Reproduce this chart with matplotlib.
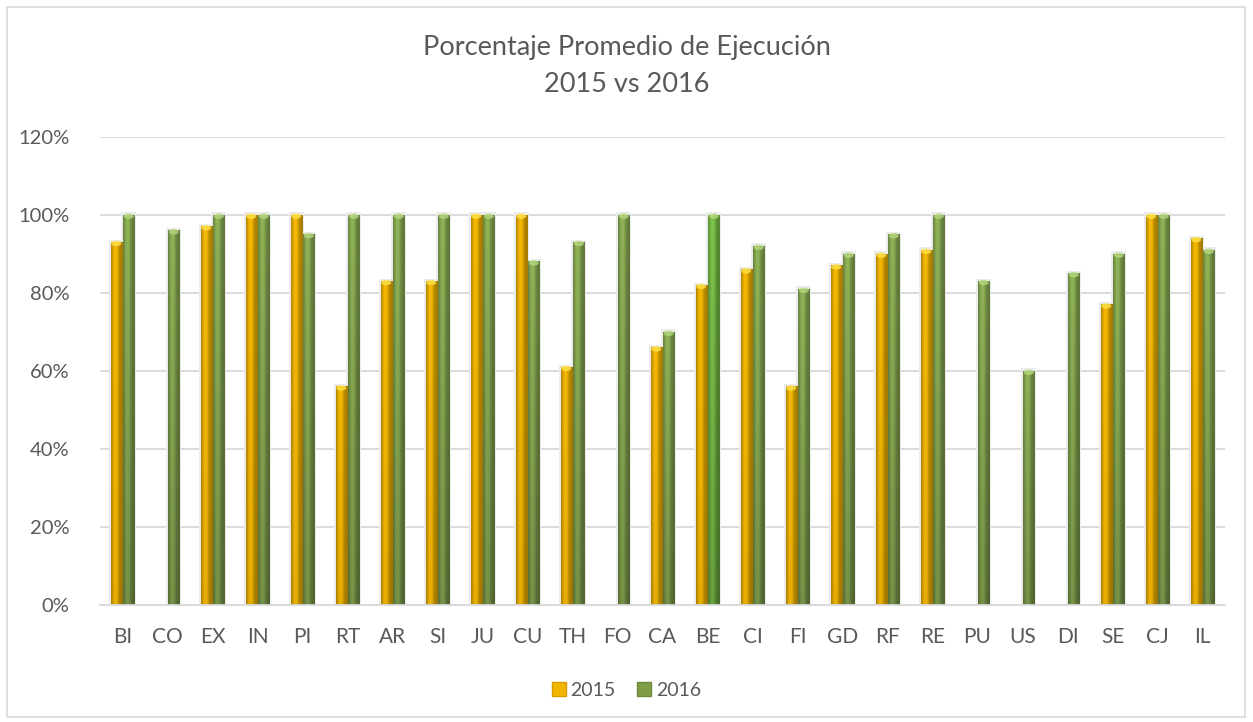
import numpy as np
import matplotlib
matplotlib.use("Agg")
import matplotlib.pyplot as plt
from matplotlib.patches import Rectangle, Ellipse
from matplotlib.lines import Line2D

plt.rcParams['font.family'] = ['Lato', 'DejaVu Sans']

# datos
categorias = ['BI', 'CO', 'EX', 'IN', 'PI', 'RT', 'AR', 'SI', 'JU', 'CU', 'TH', 'FO', 'CA',
              'BE', 'CI', 'FI', 'GD', 'RF', 'RE', 'PU', 'US', 'DI', 'SE', 'CJ', 'IL']
val_2015 = [0.93, np.nan, 0.97, 1.00, 1.00, 0.56, 0.83, 0.83, 1.00, 1.00, 0.61, np.nan, 0.66,
            0.82, 0.86, 0.56, 0.87, 0.90, 0.91, np.nan, np.nan, np.nan, 0.77, 1.00, 0.94]
val_2016 = [1.00, 0.96, 1.00, 1.00, 0.95, 1.00, 1.00, 1.00, 1.00, 0.88, 0.93, 1.00, 0.70,
            1.00, 0.92, 0.81, 0.90, 0.95, 1.00, 0.83, 0.60, 0.85, 0.90, 1.00, 0.91]
ticks_y = [0, 0.2, 0.4, 0.6, 0.8, 1.0, 1.2]

gris_texto = '#595959'
gris_linea = '#D9D9D9'
naranja = (0.96, 0.72, 0.0)
verde = (0.56, 0.70, 0.34)
verde_claro = (0.49, 0.77, 0.29)   # BE 2016 resaltada
tapa_naranja = '#FFE24A'
tapa_verde = '#B4D67E'


# imagen de cilindro (sombra horizontal + oscurecer hacia abajo)
def cilindro(base, oscurecer=0.0, n=48):
    x = np.linspace(-1, 1, n)
    perfil = 0.68 + 0.36 * np.exp(-((x + 0.25) / 0.55) ** 2)
    perfil = np.clip(perfil, 0, 1.0)
    y = np.linspace(0, 1, n)[:, None]   # 0 arriba, 1 abajo
    vert = 1.0 - oscurecer * y
    img = np.array(base)[None, None, :] * perfil[None, :, None] * vert[:, :, None]
    return np.clip(img, 0, 1)


def dibujar_barras(ax, bars, base, tapa, oscurecer, resaltar=None, base_res=None):
    for i, b in enumerate(bars):
        h = b.get_height()
        if np.isnan(h):
            continue
        x0 = b.get_x()
        w = b.get_width()
        # sombra suave alrededor
        ax.add_patch(Rectangle((x0 - w * 0.18, 0), w * 1.36, h + 0.006,
                               facecolor='#EBEBEB', edgecolor='none', zorder=1.5))
        col = base_res if (resaltar is not None and i == resaltar) else base
        img = cilindro(col, oscurecer)
        im = ax.imshow(img, extent=[x0, x0 + w, 0, h], aspect='auto',
                       interpolation='bilinear', zorder=2.5)
        im.set_clip_path(b)
        ax.add_patch(Ellipse((x0 + w / 2, h - 0.004), w * 0.9, 0.014,
                             facecolor=tapa, edgecolor='none', alpha=0.8, zorder=2.6))


fig = plt.figure(figsize=(12.53, 7.22), dpi=100)
ax = fig.add_axes([100 / 1253, 1 - 605 / 722, 1125 / 1253, (605 - 136.5) / 722])

x = np.arange(len(categorias))
ancho = 0.25
b15 = ax.bar(x - 0.14, val_2015, ancho, color=naranja, zorder=2)
b16 = ax.bar(x + 0.14, val_2016, ancho, color=verde, zorder=2)
dibujar_barras(ax, b15, naranja, tapa_naranja, 0.05)
dibujar_barras(ax, b16, verde, tapa_verde, 0.18, resaltar=13, base_res=verde_claro)

ax.set_xlim(-0.5, len(categorias) - 0.5)
ax.set_ylim(0, 1.2)
ax.set_yticks(ticks_y)
ax.set_yticklabels([f'{int(round(t * 100))}%' for t in ticks_y])
ax.set_xticks(x)
ax.set_xticklabels(categorias)
ax.tick_params(axis='both', length=0, colors=gris_texto)
ax.tick_params(axis='y', labelsize=14.5, pad=22)
ax.tick_params(axis='x', labelsize=15, pad=16)
ax.grid(axis='y', color=gris_linea, linewidth=1.3, zorder=0)
ax.set_axisbelow(True)
for s in ['top', 'right', 'left']:
    ax.spines[s].set_visible(False)
ax.spines['bottom'].set_color(gris_linea)
ax.spines['bottom'].set_linewidth(1.3)
ax.spines['bottom'].set_zorder(3)

fig.text(0.5, 1 - 48 / 722, 'Porcentaje Promedio de Ejecución', ha='center', va='center',
         fontsize=19.5, color=gris_texto)
fig.text(0.5, 1 - 85 / 722, '2015 vs 2016', ha='center', va='center',
         fontsize=19.5, color=gris_texto)

# leyenda
h1 = Line2D([], [], marker='s', linestyle='none', markersize=10,
            markerfacecolor='#F2B600', markeredgecolor='#D89E00')
h2 = Line2D([], [], marker='s', linestyle='none', markersize=10,
            markerfacecolor='#7E9D44', markeredgecolor='#6B8A3A')
fig.legend([h1, h2], ['2015', '2016'], loc='center', bbox_to_anchor=(0.5, 1 - 690 / 722),
           ncol=2, frameon=False, fontsize=14, handlelength=0.7, handletextpad=0.25,
           columnspacing=1.1, labelcolor=gris_texto)

# borde del gráfico
fig.patches.append(Rectangle((7 / 1253, 5 / 722), 1238 / 1253, 710 / 722,
                             transform=fig.transFigure, fill=False,
                             edgecolor=gris_linea, linewidth=1.2))

fig.savefig('out.png', dpi=100)
